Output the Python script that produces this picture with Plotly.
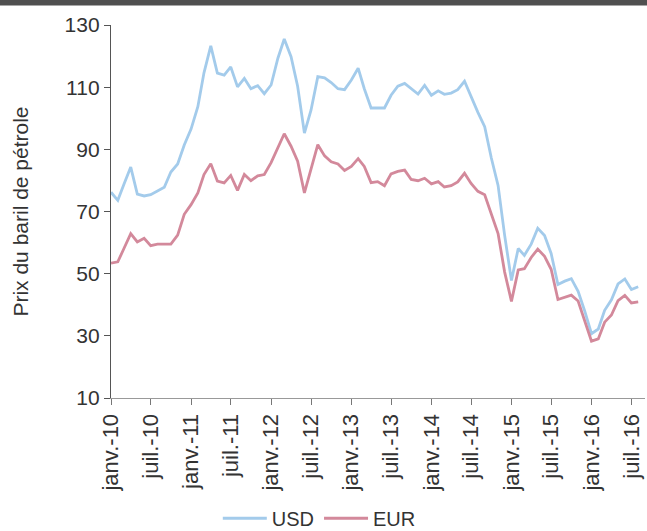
import plotly.graph_objects as go

# Monthly Brent crude price, Jan 2010 - Aug 2016
months = [f"{y}-{m:02d}-01" for y in range(2010, 2017) for m in range(1, 13)][:80]

usd = [
    76.2, 73.6, 78.8, 84.3, 75.6, 75.0, 75.4, 76.7, 77.8, 82.7, 85.3, 91.4,
    96.5, 103.7, 114.6, 123.3, 114.5, 113.9, 116.5, 110.1, 112.8, 109.5, 110.5, 107.9,
    110.7, 119.3, 125.5, 119.8, 110.3, 95.2, 102.6, 113.4, 113.0, 111.5, 109.5, 109.2,
    112.3, 116.1, 109.5, 103.3, 103.3, 103.3, 107.4, 110.3, 111.2, 109.5, 107.8, 110.6,
    107.4, 108.8, 107.7, 108.1, 109.2, 111.9, 106.9, 101.9, 97.3, 87.3, 78.4, 62.3,
    47.8, 58.1, 55.9, 59.5, 64.6, 62.3, 56.5, 46.5, 47.6, 48.4, 44.3, 38.0,
    30.7, 32.2, 38.2, 41.6, 46.7, 48.3, 44.9, 45.8,
]

eur = [
    53.4, 53.8, 58.1, 62.9, 60.2, 61.4, 59.0, 59.5, 59.5, 59.5, 62.4, 69.1,
    72.2, 76.0, 81.9, 85.4, 79.8, 79.2, 81.6, 76.8, 81.9, 79.9, 81.5, 81.9,
    85.7, 90.3, 95.0, 91.0, 86.2, 76.0, 83.5, 91.5, 87.9, 86.0, 85.3, 83.2,
    84.5, 87.0, 84.5, 79.3, 79.6, 78.3, 82.1, 82.9, 83.3, 80.3, 79.9, 80.7,
    78.9, 79.6, 77.9, 78.3, 79.5, 82.3, 79.0, 76.5, 75.4, 68.9, 62.9, 50.5,
    41.1, 51.2, 51.6, 55.2, 57.9, 55.6, 51.4, 41.7, 42.4, 43.1, 41.2, 34.9,
    28.3, 29.0, 34.4, 36.7, 41.3, 43.0, 40.6, 40.9,
]

tick_dates = [f"{y}-{m:02d}-01" for y in range(2010, 2017) for m in (1, 7)]
tick_text = [f"{'janv.' if m == 1 else 'juil.'}-{str(y)[2:]}"
             for y in range(2010, 2017) for m in (1, 7)]

y_ticks = [10, 30, 50, 70, 90, 110, 130]

font_family = "Liberation Sans, Arial, sans-serif"
text_color = "#333333"

fig = go.Figure()
fig.add_trace(go.Scatter(
    x=months, y=usd, name="USD", mode="lines",
    line=dict(color="#a3cbeb", width=2.8),
))
fig.add_trace(go.Scatter(
    x=months, y=eur, name="EUR", mode="lines",
    line=dict(color="#d3899b", width=2.8),
))

fig.update_layout(
    width=647, height=531,
    margin=dict(l=111, r=2, t=25, b=133, autoexpand=False),
    paper_bgcolor="white", plot_bgcolor="white",
    font=dict(family=font_family, size=21, color=text_color),
    showlegend=True,
    legend=dict(
        orientation="h", x=0.2, xanchor="left",
        yref="container", y=0.024, yanchor="middle",
        font=dict(size=20, color=text_color), itemwidth=44,
        bgcolor="rgba(0,0,0,0)",
    ),
    xaxis=dict(
        type="date", automargin=False,
        range=["2010-01-01", "2016-09-01"],
        tickmode="array", tickvals=tick_dates, ticktext=tick_text,
        tickangle=-90, ticks="outside", ticklen=6, tickcolor="#777",
        showline=True, linecolor="#999", linewidth=1.2,
        showgrid=False, zeroline=False,
        tickfont=dict(size=22, color=text_color),
    ),
    yaxis=dict(
        range=[10, 130], automargin=False,
        tickmode="array", tickvals=y_ticks,
        ticks="outside", ticklen=6, tickcolor="#555",
        showline=True, linecolor="#555", linewidth=1.4,
        showgrid=False, zeroline=False,
        tickfont=dict(size=21, color=text_color),
        title=dict(text="Prix du baril de pétrole", font=dict(size=21, color=text_color),
                   standoff=30),
    ),
    shapes=[
        # dark rule across the top of the page
        dict(type="rect", xref="paper", yref="paper",
             x0=-0.25, x1=1.05, y0=1.052, y1=1.08,
             fillcolor="#505050", line=dict(width=0), layer="above"),
    ],
)

fig.write_html("out.html")
